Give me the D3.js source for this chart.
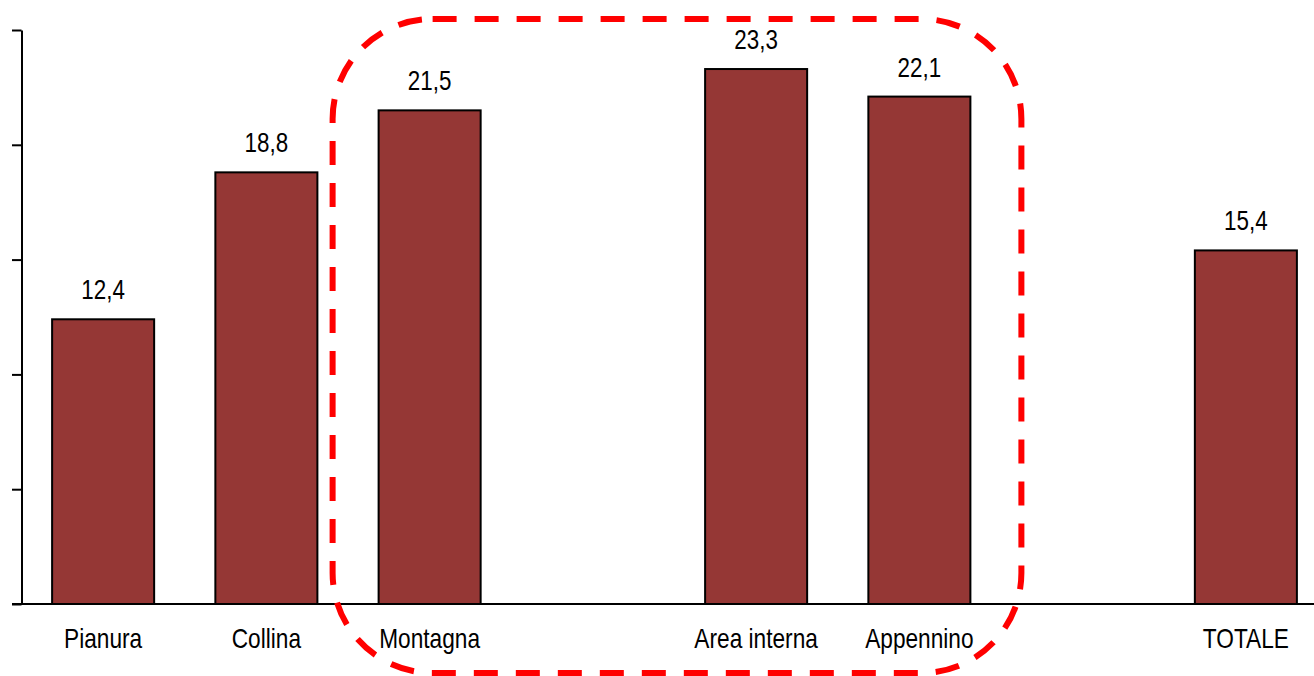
<!DOCTYPE html>
<html>
<head>
<meta charset="utf-8">
<script src="https://cdn.jsdelivr.net/npm/d3@7"></script>
<style>
  html, body { margin: 0; padding: 0; background: #ffffff; }
  svg { display: block; }
  text { font-family: "Liberation Sans", Arial, sans-serif; fill: #000; }
</style>
</head>
<body>
<svg id="chart" width="1314" height="676"></svg>
<script>
// Slots on the category axis (empty labels leave a gap between groups)
const categories = ["Pianura", "Collina", "Montagna", "", "Area interna", "Appennino", "", "TOTALE"];
const values = [12.4, 18.8, 21.5, null, 23.3, 22.1, null, 15.4];
const yTicks = [0, 5, 10, 15, 20, 25];
// Slots enclosed by the dashed frame
const highlighted = ["Montagna", "Appennino"];

const svg = d3.select("#chart");
const W = 1314, H = 676;

const x = d3.scaleBand()
  .domain(d3.range(categories.length))
  .range([21.5, 1327.5])
  .paddingInner(0.375)
  .paddingOuter(0.1875);

const y = d3.scaleLinear().domain([0, 25]).range([604, 30]);

const fmt = v => d3.format(".1f")(v).replace(".", ",");

const data = categories.map((c, i) => ({ i, c, v: values[i] }));

// Bars
svg.append("g")
  .selectAll("rect")
  .data(data.filter(d => d.v != null))
  .join("rect")
  .attr("x", d => x(d.i))
  .attr("y", d => y(d.v))
  .attr("width", x.bandwidth())
  .attr("height", d => y(0) - y(d.v))
  .attr("fill", "#953735")
  .attr("stroke", "#000")
  .attr("stroke-width", 2);

// Value labels
svg.append("g")
  .selectAll("text")
  .data(data.filter(d => d.v != null))
  .join("text")
  .attr("transform", d => `translate(${x(d.i) + x.bandwidth() / 2},${y(d.v) - 20}) scale(0.8,1)`)
  .attr("text-anchor", "middle")
  .style("font-size", "28px")
  .text(d => fmt(d.v));

// Vertical axis: ticks without labels
const yAxis = svg.append("g")
  .attr("transform", "translate(21.5,0)")
  .call(d3.axisLeft(y).tickValues(yTicks).tickFormat("").tickSize(9.5).tickSizeOuter(0));
yAxis.selectAll("path, line").attr("stroke", "#000").attr("stroke-width", 2);

// Baseline
svg.append("line")
  .attr("x1", 12).attr("x2", W)
  .attr("y1", y(0)).attr("y2", y(0))
  .attr("stroke", "#000").attr("stroke-width", 2);

// Category labels
svg.append("g")
  .selectAll("text")
  .data(data.filter(d => d.c !== ""))
  .join("text")
  .attr("transform", d => `translate(${x(d.i) + x.bandwidth() / 2},648) scale(0.84,1)`)
  .attr("text-anchor", "middle")
  .style("font-size", "27px")
  .text(d => d.c);

// Dashed rounded frame around the mountain / inner-area group
const iA = categories.indexOf(highlighted[0]);
const iB = categories.indexOf(highlighted[1]);
const fx0 = x(iA) - 46;
const fx1 = x(iB) + x.bandwidth() + 51;
const fy0 = y(25) - 11;
const fy1 = y(0) + 69;
svg.append("rect")
  .attr("x", fx0).attr("y", fy0)
  .attr("width", fx1 - fx0).attr("height", fy1 - fy0)
  .attr("rx", 100).attr("ry", 100)
  .attr("fill", "none")
  .attr("stroke", "#ff0000")
  .attr("stroke-width", 6)
  .attr("stroke-dasharray", "24 18");
</script>
</body>
</html>
